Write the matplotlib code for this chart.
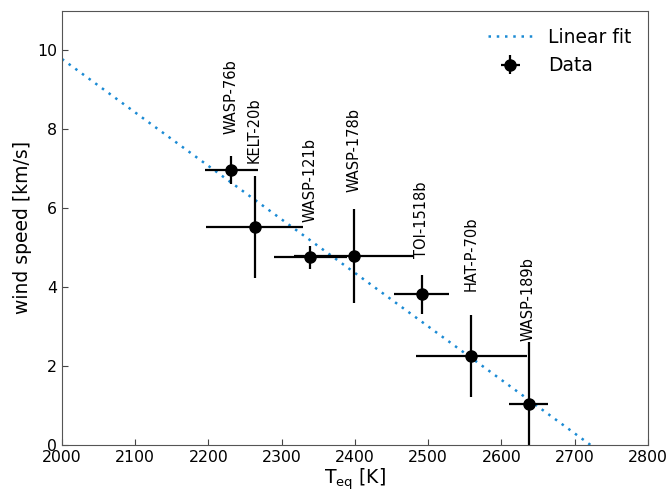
import numpy as np
import matplotlib.pyplot as plt

# Planeter, likevektstemperatur og målt vindhastighet
planeter = ['WASP-76b', 'KELT-20b', 'WASP-121b', 'WASP-178b',
            'TOI-1518b', 'HAT-P-70b', 'WASP-189b']
teq = [2231, 2263, 2339, 2399, 2491, 2559, 2637]
teq_feil = [36, 66, 50, 82, 38, 76, 27]
vind = [6.96, 5.52, 4.76, 4.78, 3.82, 2.26, 1.04]
vind_feil = [0.35, 1.30, 0.29, 1.19, 0.49, 1.04, 1.58]

# Lineær tilpasning: vind = a + b * (Teq - 2000)
fit_a = 9.78
fit_b = -0.01355

# Høyde på navnelappene over hvert punkt (km/s)
lapp_y = [7.88, 7.15, 5.65, 6.40, 4.73, 3.89, 2.63]

plt.figure(figsize=(6.7, 4.92), dpi=100)
ax = plt.gca()

t = np.linspace(2000, 2800, 200)
ax.plot(t, fit_a + fit_b * (t - 2000), linestyle=(0, (1, 2.3)), color='#1a8ad4',
        linewidth=1.8, label='Linear fit')

ax.errorbar(teq, vind, xerr=teq_feil, yerr=vind_feil, fmt='o', color='black',
            markersize=8, elinewidth=1.6, capsize=0, label='Data')

for navn, x, y in zip(planeter, teq, lapp_y):
    ax.text(x, y, navn, rotation=90, ha='center', va='bottom', fontsize=10.5)

ax.set_xlim(2000, 2800)
ax.set_ylim(0, 11)
ax.set_xticks(np.arange(2000, 2801, 100))
ax.set_yticks(np.arange(0, 11, 2))
ax.tick_params(direction='in', labelsize=11.3, length=4, color='#444444')
for spine in ax.spines.values():
    spine.set_color('#555555')

ax.set_xlabel(r'T$_{\rm eq}$ [K]', fontsize=13.5, labelpad=1.5)
ax.set_ylabel('wind speed [km/s]', fontsize=13.5)
ax.legend(loc='upper right', frameon=False, fontsize=13.5, handlelength=2.4)

plt.subplots_adjust(left=0.0925, right=0.967, bottom=0.0955, top=0.978)
plt.savefig('out.png', dpi=100)
